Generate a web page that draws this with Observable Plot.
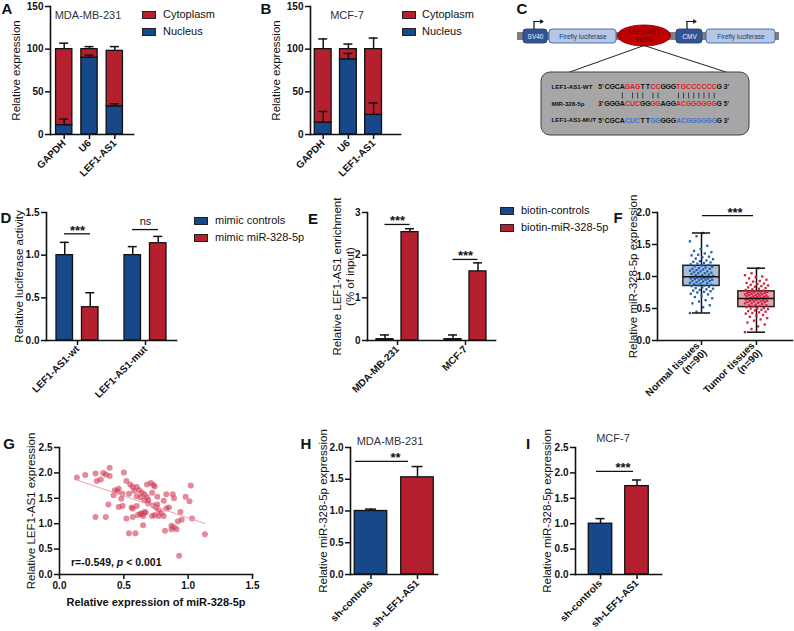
<!DOCTYPE html>
<html><head><meta charset="utf-8">
<script src="https://cdn.jsdelivr.net/npm/d3@7"></script>
<script src="https://cdn.jsdelivr.net/npm/@observablehq/plot@0.6"></script>
<style>
body{margin:0;background:#fff}
#root{position:relative;width:794px;height:631px;overflow:hidden;font-family:"Liberation Sans",Arial,Helvetica,sans-serif;color:#111}
#root svg{overflow:visible}
</style></head>
<body><div id="root"></div>
<script>
// ---------------- DATA ----------------
// Panels A/B: subcellular fractionation
const cellTargets = ["GAPDH", "U6", "LEF1-AS1"];
const fractionNames = ["Cytoplasm", "Nucleus"];
const mdaNucleus = [11, 90, 33];
const mdaNucleusErr = [18, 93, 36];
const mdaTotal = [100, 100, 98];
const mdaTotalErr = [107, 103, 103];
const mcfNucleus = [14, 88, 23];
const mcfNucleusErr = [27, 95, 37];
const mcfTotal = [100, 100, 100];
const mcfTotalErr = [112, 106, 113];

// Panel C: construct diagram
const partNames = ["SV40", "Firefly luciferase", "CMV", "Firefly luciferase"];
const utrName = "LEF1-AS1\n3'UTR";
const seqNames = ["LEF1-AS1-WT", "MIR-328-5p", "LEF1-AS1-MUT"];
const seqStart = ["5'", "3'", "5'"];
const seqEnd = ["3'", "5'", "3'"];
const seqs = ["CGCAGAGTTCCGGGTGCCCCCCG", "GGGACUCGGGGAGGACGGGGGGG", "CGCACUCTTGGGGGACGGGGGGG"];
const seqMask = "00001110011000111111110";
const pairIndex = [3, 5, 6, 7, 9, 10, 14, 15, 16, 17, 18, 19, 20, 21];

// Panel D: luciferase
const dGroups = ["LEF1-AS1-wt", "LEF1-AS1-mut"];
const dSeries = ["mimic controls", "mimic miR-328-5p"];
const dControls = [1.00, 1.00];
const dControlsErr = [1.15, 1.10];
const dMimic = [0.39, 1.14];
const dMimicErr = [0.56, 1.22];
const dSig = ["***", "ns"];
const dSigY = [1.25, 1.30];

// Panel E: RNA pull-down
const eGroups = ["MDA-MB-231", "MCF-7"];
const eSeries = ["biotin-controls", "biotin-miR-328-5p"];
const eControls = [0.03, 0.03];
const eControlsErr = [0.13, 0.13];
const eBiotin = [2.54, 1.62];
const eBiotinErr = [2.62, 1.82];
const eSig = ["***", "***"];
const eSigY = [2.72, 1.90];

// Panel F: tissues
const fLabels = ["Normal tissues\n(n=90)", "Tumor tissues\n(n=90)"];
const fNormal = [0.43,0.45,0.52,0.55,0.58,0.61,0.63,0.66,0.68,0.70,0.72,0.73,0.75,0.76,0.77,0.78,0.79,0.80,0.81,0.82,0.83,0.84,
  0.85,0.86,0.86,0.87,0.88,0.89,0.90,0.90,0.91,0.92,0.93,0.93,0.94,0.95,0.95,0.96,0.96,0.97,0.97,0.98,0.98,0.99,0.99,
  1.00,1.00,1.01,1.02,1.02,1.03,1.04,1.05,1.05,1.06,1.07,1.08,1.08,1.09,1.10,1.11,1.12,1.12,1.13,1.14,1.15,1.16,1.17,
  1.18,1.19,1.20,1.21,1.22,1.23,1.24,1.25,1.27,1.28,1.30,1.31,1.33,1.34,1.36,1.38,1.40,1.43,1.48,1.55,1.63,1.68];
const fTumor = [0.13,0.18,0.22,0.25,0.28,0.31,0.33,0.35,0.37,0.39,0.40,0.42,0.43,0.44,0.45,0.46,0.47,0.48,0.49,0.50,0.50,0.51,
  0.52,0.53,0.54,0.55,0.55,0.56,0.57,0.58,0.58,0.59,0.60,0.60,0.61,0.61,0.62,0.62,0.63,0.63,0.64,0.64,0.65,0.65,0.65,
  0.66,0.66,0.67,0.67,0.68,0.68,0.69,0.69,0.70,0.70,0.71,0.71,0.72,0.72,0.73,0.73,0.74,0.74,0.75,0.75,0.76,0.76,0.77,
  0.78,0.79,0.80,0.81,0.82,0.83,0.84,0.85,0.86,0.87,0.88,0.89,0.90,0.92,0.93,0.95,0.97,0.99,1.00,1.02,1.05,1.13];
const fSig = "***";
const fSigY = 1.95;

// Panel G: correlation
const gX = [0.135,0.20,0.28,0.29,0.32,0.34,0.36,0.39,0.39,0.50,
  0.52,0.55,0.57,0.60,0.62,0.46,0.43,0.45,0.42,0.49,
  0.54,0.38,0.46,0.49,0.28,0.36,0.52,0.57,0.57,0.54,
  0.68,0.71,0.73,0.74,0.64,0.66,0.60,0.63,0.68,0.60,
  0.66,0.69,0.73,0.76,0.75,0.77,0.63,0.66,0.65,0.61,
  0.72,0.77,0.81,0.83,0.81,0.83,0.88,0.89,0.98,1.02,
  1.01,0.94,1.03,0.95,0.92,0.87,0.89,0.91,0.82,0.87,
  0.65,0.59,1.13,0.93,0.76,0.79,0.64,0.67,0.74,0.69,
  0.72,0.58,0.48,0.56,0.85];
const gY = [1.91,1.96,1.99,1.84,1.87,2.00,1.97,2.10,1.94,2.01,
  1.84,1.77,1.72,1.72,1.66,1.69,1.66,1.64,1.56,1.59,
  1.59,1.38,1.33,1.35,1.13,1.13,1.10,1.13,1.30,0.81,
  1.77,1.80,1.76,1.73,1.61,1.58,1.54,1.52,1.52,1.35,
  1.46,1.46,1.36,1.53,1.32,1.27,1.20,1.23,1.15,1.17,
  1.15,1.15,1.15,1.30,1.45,1.58,1.58,1.50,1.53,1.75,
  1.44,1.23,1.10,1.08,1.05,0.96,0.93,0.89,0.86,0.89,
  0.97,0.81,0.79,0.37,1.38,1.21,1.19,1.22,1.17,1.40,
  1.61,1.65,1.49,1.32,1.32];
const gStat = "r=-0.549, ";
const gStatP = "p";
const gStatRest = " < 0.001";

// Panels H/I: knockdown
const shCats = ["sh-controls", "sh-LEF1-AS1"];
const hValues = [1.00, 1.53];
const hErr = [1.03, 1.70];
const hSig = "**";
const hSigY = 1.78;
const iValues = [1.00, 1.74];
const iErr = [1.10, 1.86];
const iSig = "***";
const iSigY = 2.03;

// ---------------- STYLE / LAYOUT ----------------
const FONT = '"Liberation Sans", Arial, Helvetica, sans-serif';
const BLUE = "#17488a", RED = "#b5202e", INK = "#111";
const root = document.getElementById("root");

function put(node, left, top) {
  node.style.position = "absolute"; node.style.left = left + "px"; node.style.top = top + "px";
  root.appendChild(node); return node;
}
function label(text, left, top, css = {}) {
  const d = document.createElement("div");
  d.textContent = text;
  Object.assign(d.style, {whiteSpace: "nowrap", fontSize: "11px", lineHeight: "1", color: "#111"}, css);
  return put(d, left, top);
}
function centered(text, cx, cy, css = {}) {
  const d = label(text, cx, cy, css);
  d.style.transform = "translate(-50%,-50%)";
  return d;
}
function legend(names, colors, x, ys, tx) {
  names.forEach((n, k) => {
    const s = document.createElement("div");
    Object.assign(s.style, {width: "12px", height: "6px", background: colors[k], border: "1px solid #222"});
    put(s, x, ys[k] - 4);
    label(n, tx, ys[k] - 6.5, {fontSize: "11px"});
  });
}
function bandX(domain, c0, step, bw) {
  const p = 1 - bw / step;
  const a = c0 - bw / 2;
  return {type: "band", domain, range: [a, a + step * (domain.length - p)], paddingInner: p, paddingOuter: 0, align: 0.5, round: false, label: null};
}
function basePlot(o) {
  return Plot.plot({
    width: o.width, height: o.height,
    marginLeft: o.mL, marginTop: o.mT, marginRight: o.mR, marginBottom: o.mB,
    style: {fontFamily: FONT, fontSize: "10px", fontWeight: "bold", color: INK, background: "transparent", overflow: "visible"},
    x: o.x, y: o.y, marks: o.marks
  });
}
const yAxis = (ticks, fmt) => Plot.axisY({ticks, tickFormat: fmt, tickSize: 5, tickPadding: 2, strokeWidth: 1.5, label: null});
const xAxis = (opts = {}) => Plot.axisX({tickSize: 5, tickRotate: -45, tickPadding: 2, strokeWidth: 1.5, label: null, ...opts});
const axisLines = () => [Plot.frame({anchor: "left", strokeWidth: 1.6}), Plot.frame({anchor: "bottom", strokeWidth: 1.6})];
const yLabel = (text, dx) => Plot.text([text], {text: d => d, frameAnchor: "left", rotate: -90, dx, fontSize: 11.5, fontWeight: "normal", textAnchor: "middle", lineAnchor: "middle", lineHeight: 1.1});

// ---------------- PANELS A / B ----------------
function stackedPanel(c) {
  const rows = cellTargets.map((cat, i) => ({cat, n: c.nucleus[i], ne: c.nucleusErr[i], t: c.total[i], te: c.totalErr[i]}));
  const capIn = (c.bw - 9) / 2;
  return basePlot({
    width: c.width, height: 190, mL: 50, mT: 6, mR: 7, mB: 56,
    x: bandX(cellTargets, c.c0, c.step, c.bw),
    y: {domain: [0, 150], label: null},
    marks: [
      Plot.barY(rows, {x: "cat", y1: 0, y2: "n", fill: BLUE, stroke: INK, strokeWidth: 1.3}),
      Plot.barY(rows, {x: "cat", y1: "n", y2: "t", fill: RED, stroke: INK, strokeWidth: 1.3}),
      Plot.ruleX(rows, {x: "cat", y1: "n", y2: "ne", strokeWidth: 1.5}),
      Plot.tickY(rows, {x: "cat", y: "ne", insetLeft: capIn, insetRight: capIn, strokeWidth: 1.5}),
      Plot.ruleX(rows, {x: "cat", y1: "t", y2: "te", strokeWidth: 1.5}),
      Plot.tickY(rows, {x: "cat", y: "te", insetLeft: capIn, insetRight: capIn, strokeWidth: 1.5}),
      yAxis([0, 50, 100, 150], d3.format("d")),
      xAxis(),
      ...axisLines(),
      yLabel("Relative expression", -35)
    ]
  });
}
put(stackedPanel({nucleus: mdaNucleus, nucleusErr: mdaNucleusErr, total: mdaTotal, totalErr: mdaTotalErr, width: 140, c0: 63.7, step: 25.3, bw: 16.3}), 0, 0);
put(stackedPanel({nucleus: mcfNucleus, nucleusErr: mcfNucleusErr, total: mcfTotal, totalErr: mcfTotalErr, width: 147, c0: 62.7, step: 25.2, bw: 16.8}), 260, 0);
centered("MDA-MB-231", 88, 15, {color: "#333"});
centered("MCF-7", 347, 15, {color: "#333"});
legend(fractionNames, [RED, BLUE], 142, [15, 32], 163);
legend(fractionNames, [RED, BLUE], 402, [15, 32], 422);

// ---------------- PANELS D / E ----------------
function groupedPanel(c) {
  const rowsA = c.groups.map((g, i) => ({g, v: c.a[i], e: c.aErr[i]}));
  const rowsB = c.groups.map((g, i) => ({g, v: c.b[i], e: c.bErr[i]}));
  const sig = c.groups.map((g, i) => ({g, y: c.sigY[i], t: c.sig[i]}));
  const h = c.bw / 2;
  const inL = h - c.off - c.barW / 2, inR = h + c.off - c.barW / 2;
  const cL = h - c.off - 4.5, cR = h + c.off - 4.5;
  return basePlot({
    width: c.width, height: 200, mL: c.mL, mT: 12, mR: c.mR, mB: 60,
    x: bandX(c.groups, c.c0, c.step, c.bw),
    y: {domain: c.domain, label: null},
    marks: [
      Plot.barY(rowsA, {x: "g", y1: 0, y2: "v", fill: BLUE, stroke: INK, strokeWidth: 1.3, insetLeft: inL, insetRight: inR}),
      Plot.barY(rowsB, {x: "g", y1: 0, y2: "v", fill: RED, stroke: INK, strokeWidth: 1.3, insetLeft: inR, insetRight: inL}),
      Plot.ruleX(rowsA, {x: "g", y1: "v", y2: "e", dx: -c.off, strokeWidth: 1.5}),
      Plot.tickY(rowsA, {x: "g", y: "e", insetLeft: cL, insetRight: cR, strokeWidth: 1.5}),
      Plot.ruleX(rowsB, {x: "g", y1: "v", y2: "e", dx: c.off, strokeWidth: 1.5}),
      Plot.tickY(rowsB, {x: "g", y: "e", insetLeft: cR, insetRight: cL, strokeWidth: 1.5}),
      Plot.tickY(sig, {x: "g", y: "y", insetLeft: h - c.sigHalf, insetRight: h - c.sigHalf, strokeWidth: 1.3}),
      Plot.text(sig.filter(d => d.t !== "ns"), {x: "g", y: "y", text: "t", lineAnchor: "bottom", dy: 1, fontSize: 13}),
      Plot.text(sig.filter(d => d.t === "ns"), {x: "g", y: "y", text: "t", lineAnchor: "bottom", dy: -5, fontSize: 11, fontWeight: "normal"}),
      yAxis(c.ticks, c.fmt),
      xAxis(),
      ...axisLines(),
      yLabel(c.ylabel, c.ldx)
    ]
  });
}
put(groupedPanel({groups: dGroups, a: dControls, aErr: dControlsErr, b: dMimic, bErr: dMimicErr, sig: dSig, sigY: dSigY,
  width: 180, mL: 46, mR: 4, c0: 77, step: 68, bw: 50, off: 12.75, barW: 16.5, sigHalf: 13,
  domain: [0, 1.5], ticks: [0, 0.5, 1, 1.5], fmt: d3.format(".1f"), ylabel: "Relative luciferase activity", ldx: -28}), 0, 200);
put(groupedPanel({groups: eGroups, a: eControls, aErr: eControlsErr, b: eBiotin, bErr: eBiotinErr, sig: eSig, sigY: eSigY,
  width: 210, mL: 77, mR: 5, c0: 107, step: 68, bw: 50, off: 12.5, barW: 17, sigHalf: 12.5,
  domain: [0, 3], ticks: [0, 1, 2, 3], fmt: d3.format("d"), ylabel: "Relative LEF1-AS1 enrichment\n(% of input)", ldx: -24}), 290, 200);
legend(dSeries, [BLUE, RED], 194, [221, 238], 215);
legend(eSeries, [BLUE, RED], 500, [211, 228], 521);

// ---------------- PANEL F ----------------
{
  const groups = [fNormal, fTumor];
  const stats = groups.map((v, i) => ({i, min: d3.min(v), q1: d3.quantile(v, 0.25), med: d3.median(v), q3: d3.quantile(v, 0.75), max: d3.max(v)}));
  const jitter = k => (((k * 37) % 29) / 28 - 0.5) * 0.42;
  const pts = groups.flatMap((v, i) => v.map((y, k) => ({i, y, jx: i + jitter(k)})));
  const boxFill = ["#a9bedb", "#e7a2ac"], dotFill = ["#1f5fae", "#d3203d"];
  const bh = 0.33, ch = 0.165;
  put(basePlot({
    width: 194, height: 200, mL: 57, mT: 12, mR: 2, mB: 60,
    x: {domain: [-0.8, 1.655], label: null},
    y: {domain: [0, 2], label: null},
    marks: [
      Plot.ruleX(stats, {x: "i", y1: "min", y2: "max", strokeWidth: 1.5}),
      Plot.rect(stats, {x1: d => d.i - bh, x2: d => d.i + bh, y1: "q1", y2: "q3", fill: d => boxFill[d.i], stroke: "#222", strokeWidth: 1.5}),
      Plot.dot(pts, {x: "jx", y: "y", r: 1.3, symbol: "square", fill: d => dotFill[d.i], stroke: "none"}),
      Plot.ruleY(stats, {y: "med", x1: d => d.i - bh, x2: d => d.i + bh, strokeWidth: 1.5}),
      Plot.ruleY(stats, {y: "min", x1: d => d.i - ch, x2: d => d.i + ch, strokeWidth: 1.5}),
      Plot.ruleY(stats, {y: "max", x1: d => d.i - ch, x2: d => d.i + ch, strokeWidth: 1.5}),
      Plot.ruleY([fSigY], {insetLeft: 45, insetRight: 39, strokeWidth: 1.3}),
      Plot.text([fSig], {text: d => d, y: fSigY, frameAnchor: "left", dx: 70, lineAnchor: "bottom", dy: 1, fontSize: 13}),
      yAxis([0, 0.5, 1, 1.5, 2], d3.format(".1f")),
      xAxis({ticks: [0, 1], tickFormat: i => fLabels[i]}),
      ...axisLines(),
      yLabel("Relative miR-328-5p expression", -25)
    ]
  }), 600, 200);
}

// ---------------- PANEL G ----------------
{
  const rows = gX.map((x, k) => ({x, y: gY[k]}));
  put(basePlot({
    width: 260, height: 201, mL: 59, mT: 17, mR: 8, mB: 57,
    x: {domain: [0, 1.5], label: null},
    y: {domain: [0, 2.5], label: null},
    marks: [
      Plot.dot(rows, {x: "x", y: "y", r: 3, fill: "#d23a55", fillOpacity: 0.6}),
      Plot.linearRegressionY(rows, {x: "x", y: "y", stroke: "#e9a0ac", strokeWidth: 1, ci: 0}),
      yAxis([0, 0.5, 1, 1.5, 2, 2.5], d3.format(".1f")),
      Plot.axisX({ticks: [0, 0.5, 1, 1.5], tickFormat: d3.format(".1f"), tickSize: 5, tickPadding: 2, strokeWidth: 1.5, label: null}),
      ...axisLines(),
      yLabel("Relative LEF1-AS1 expression", -29),
      Plot.text(["Relative expression of miR-328-5p"], {text: d => d, frameAnchor: "bottom", dy: 28, fontSize: 11, fontWeight: "bold", lineAnchor: "middle"})
    ]
  }), 0, 430);
  const s = label(gStat, 71, 557, {fontSize: "10.5px", fontWeight: "bold"});
  const it = document.createElement("i"); it.textContent = gStatP; s.appendChild(it);
  s.appendChild(document.createTextNode(gStatRest));
}

// ---------------- PANELS H / I ----------------
function simplePanel(c) {
  const rows = shCats.map((cat, i) => ({cat, v: c.v[i], e: c.e[i], fill: [BLUE, RED][i]}));
  const capIn = (c.bw - c.capW) / 2;
  return basePlot({
    width: 140, height: 201, mL: c.mL, mT: 17, mR: c.mR, mB: 57,
    x: bandX(shCats, c.c0, c.step, c.bw),
    y: {domain: c.domain, label: null},
    marks: [
      Plot.barY(rows, {x: "cat", y1: 0, y2: "v", fill: "fill", stroke: INK, strokeWidth: 1.3}),
      Plot.ruleX(rows, {x: "cat", y1: "v", y2: "e", strokeWidth: 1.5}),
      Plot.tickY(rows, {x: "cat", y: "e", insetLeft: capIn, insetRight: capIn, strokeWidth: 1.5}),
      Plot.ruleY([c.sigY], {insetLeft: c.sigL, insetRight: c.sigR, strokeWidth: 1.3}),
      Plot.text([c.sig], {text: d => d, y: c.sigY, frameAnchor: "left", dx: c.sigDx, lineAnchor: "bottom", dy: 1, fontSize: 13}),
      yAxis(c.ticks, d3.format(".1f")),
      xAxis(),
      ...axisLines(),
      yLabel("Relative miR-328-5p expression", c.ldx)
    ]
  });
}
put(simplePanel({v: hValues, e: hErr, sig: hSig, sigY: hSigY, mL: 50, mR: 3, c0: 70.5, step: 46.5, bw: 32.5, capW: 11,
  sigL: 5, sigR: 29, sigDx: 40, domain: [0, 2], ticks: [0, 0.5, 1, 1.5, 2], ldx: -28}), 300, 430);
put(simplePanel({v: iValues, e: iErr, sig: iSig, sigY: iSigY, mL: 45, mR: 9, c0: 70, step: 36.5, bw: 23.5, capW: 9,
  sigL: 21, sigR: 28, sigDx: 40, domain: [0, 2.5], ticks: [0, 0.5, 1, 1.5, 2, 2.5], ldx: -29}), 530, 430);
centered("MDA-MB-231", 390, 441, {color: "#333"});
centered("MCF-7", 613, 438, {color: "#333"});

// ---------------- PANEL C (diagram) ----------------
{
  const X0 = 513, Y0 = 16, W = 272, H = 126;
  const partX1 = [523, 549, 676, 706], partX2 = [547, 616, 702, 775];
  const promoter = [true, false, true, false];
  const parts = partNames.map((name, k) => ({name, x1: partX1[k], x2: partX2[k], pro: promoter[k]}));
  const ell = d3.range(0, 72).map(k => [643.5 + 26.5 * Math.cos(k / 72 * 2 * Math.PI), 35 + 10.5 * Math.sin(k / 72 * 2 * Math.PI)]);
  const rowY = [86.5, 103.5, 120];
  const sx = 604, cw = 5.1;
  const chars = seqs.flatMap((s, r) => [...s].map((ch, k) => ({ch, x: sx + (k + 0.5) * cw, y: rowY[r],
    color: seqMask[k] === "1" ? (r === 2 ? "#4472c4" : "#e0201b") : "#111"})));
  const arrows = parts.filter(p => p.pro).map(p => ({x: p.x1 + 10.5}));
  put(Plot.plot({
    width: W, height: H, margin: 0,
    style: {fontFamily: FONT, background: "transparent", overflow: "visible"},
    x: {domain: [X0, X0 + W], range: [0, W], axis: null},
    y: {domain: [Y0, Y0 + H], range: [0, H], axis: null},
    marks: [
      Plot.rect([0], {x1: 517, x2: 779, y1: 32, y2: 40, fill: "#808080"}),
      Plot.rect(parts, {x1: "x1", x2: "x2", y1: 29, y2: 43, rx: 3, fill: d => d.pro ? "#2f5597" : "#b4c7e7", stroke: d => d.pro ? "#203864" : "#2f5597", strokeWidth: 0.8}),
      Plot.text(parts, {x: d => (d.x1 + d.x2) / 2, y: 36, text: "name", fontSize: 6.5, fill: d => d.pro ? "#eef2fa" : "#1f3864"}),
      Plot.ruleX(arrows, {x: "x", y1: 29, y2: 21, strokeWidth: 1.2}),
      Plot.arrow(arrows, {x1: "x", x2: d => d.x + 9, y1: 21, y2: 21, strokeWidth: 1.2, headLength: 4}),
      Plot.line(ell, {curve: "linear-closed", fill: "#c00000", stroke: "#7a0000", strokeWidth: 0.8}),
      Plot.text([utrName], {text: d => d, x: 643.5, y: 35, fontSize: 6.8, fill: "#4a0606", lineHeight: 1.2}),
      Plot.link([0, 1], {x1: 643.5, y1: 45, x2: d => d ? 727 : 568, y2: 72, stroke: "#222", strokeWidth: 1}),
      Plot.rect([0], {x1: 541, x2: 749, y1: 72, y2: 135, rx: 9, fill: "#a6a6a6", stroke: "#404040", strokeWidth: 1}),
      Plot.text(seqNames, {text: d => d, x: 551, y: (d, k) => rowY[k], textAnchor: "start", fontSize: 6.2, fontWeight: "bold", fill: "#111"}),
      Plot.text(seqStart, {text: d => d, x: sx - 1, y: (d, k) => rowY[k], textAnchor: "end", fontSize: 6.5, fontWeight: "bold", fill: "#111"}),
      Plot.text(seqEnd, {text: d => d, x: sx + 23 * cw + 2, y: (d, k) => rowY[k], textAnchor: "start", fontSize: 6.5, fontWeight: "bold", fill: "#111"}),
      Plot.text(chars, {x: "x", y: "y", text: "ch", fill: "color", fontSize: 7, fontWeight: "bold"}),
      Plot.ruleX(pairIndex, {x: k => sx + (k + 0.5) * cw, y1: 92.5, y2: 98.5, stroke: "#222", strokeWidth: 0.8})
    ]
  }), X0, Y0);
}

// ---------------- Panel letters ----------------
[["A", 7, 8], ["B", 266, 8], ["C", 522, 8], ["D", 6, 217], ["E", 313, 218], ["F", 618, 217], ["G", 9, 443], ["H", 306, 443], ["I", 528, 443]]
  .forEach(([t, x, y]) => centered(t, x, y, {fontWeight: "bold", fontSize: "15px"}));
</script>
</body></html>
